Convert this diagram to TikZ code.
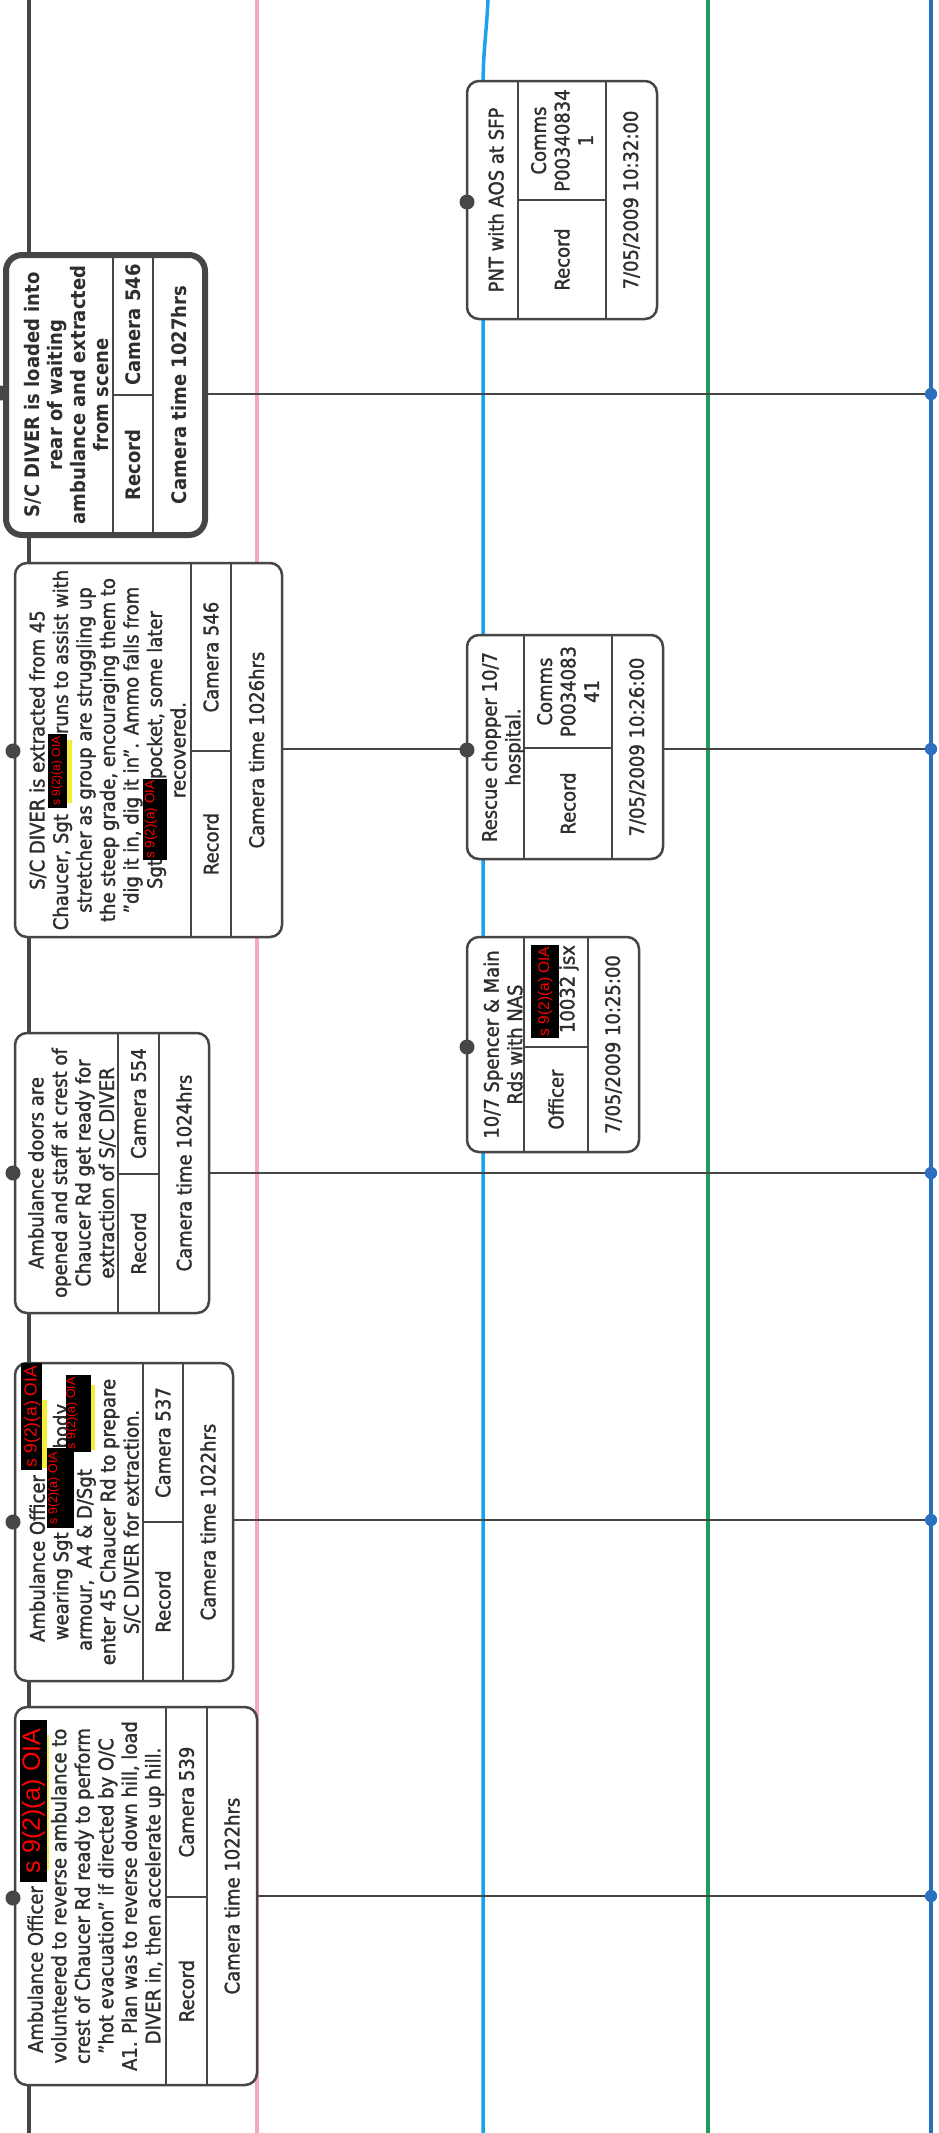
\documentclass[tikz,border=0pt]{standalone}
\usepackage{fontspec}
\setmainfont{DejaVu Sans}[FakeStretch=0.9, UprightFeatures={FakeBold=1.5}]
\newfontfamily\rdf{Liberation Sans}
\definecolor{boxgray}{HTML}{464646}
\definecolor{txtgray}{HTML}{2E2E2E}
\definecolor{lanepink}{HTML}{F4A8C6}
\definecolor{laneblue}{HTML}{1AA3EC}
\definecolor{lanegreen}{HTML}{1E9E5A}
\definecolor{lanedblue}{HTML}{2B6FBF}
\definecolor{hlyellow}{HTML}{F2EE3A}
\tikzset{
  boxframe/.style={draw=boxgray, line width=2.5pt, fill=white, rounded corners=12pt, inner sep=0pt, outer sep=0pt},
  boldframe/.style={line width=6pt, rounded corners=16pt},
  plainframe/.style={},
  cellline/.style={draw=boxgray, line width=2pt},
  txt/.style={rotate=90, align=center, inner sep=0pt, text=txtgray, font=\fontsize{20}{23.5}\selectfont},
  btxt/.style={rotate=90, align=center, inner sep=0pt, text=txtgray, font=\fontsize{20}{23}\selectfont\bfseries},
  redbox/.style={fill=black, draw=none, inner sep=0pt, outer sep=0pt},
  redtxt/.style={rotate=90, text=red, inner sep=0pt},
  lane/.style={line width=3.5pt},
  conn/.style={draw=boxgray, line width=2pt},
  ldot/.style={circle, fill=boxgray, inner sep=0pt, minimum size=15pt},
  rdot/.style={circle, fill=lanedblue, inner sep=0pt, minimum size=12pt},
}
\newcommand\gapbox[1]{\hspace*{#1}\mbox{}}
% name, left, top, right, bottom, div1, div2, split, extra style
\newcommand\frm[9]{%
  \node[boxframe,#9, minimum width={#4-#2}, minimum height={#5-#3}] (#1) at ({(#2+#4)/2},{-(#3+#5)/2}) {};
  \draw[cellline] (#6,-#3) -- (#6,-#5);
  \draw[cellline] (#7,-#3) -- (#7,-#5);
  \draw[cellline] (#6,-#8) -- (#7,-#8);
}
% name, cx, cy, length, thickness, font size, text cx
\newcommand\redact[7]{%
  \node[redbox, minimum width=#5, minimum height=#4] (#1) at (#2,-#3) {};
  \node[redtxt, font=\rdf\fontsize{#6}{#6}\selectfont] (#1t) at (#7,-#3) {s 9(2)(a) OIA};
}
\begin{document}
\begin{tikzpicture}[x=1pt,y=1pt]
\useasboundingbox (0,0) rectangle (939,-2133);
\fill[white] (0,0) rectangle (939,-2133);
% lanes
\draw[lane, boxgray] (29,0) -- (29,-2133);
\draw[lane, lanepink] (257,0) -- (257,-2133);
\draw[lane, laneblue] (488,0) .. controls (486,-40) and (483,-50) .. (483,-90) -- (483,-2133);
\draw[lane, lanegreen] (708,0) -- (708,-2133);
\draw[lane, lanedblue, line width=4.5pt] (931,0) -- (931,-2133);

% ---------- left boxes ----------
% box 1
\frm{b1}{15}{1707}{257}{2085}{166}{207}{1897}{plainframe}
\node[txt] (t1) at (96,-1896) {Ambulance Officer\gapbox{147pt}\\volunteered to reverse ambulance to\\crest of Chaucer Rd ready to perform\\"hot evacuation" if directed by O/C\\A1. Plan was to reverse down hill, load\\DIVER in, then accelerate up hill.};
\node[txt] (t1r) at (186.5,-1991) {Record};
\node[txt] (t1c) at (186.5,-1802) {Camera 539};
\node[txt] (t1t) at (232,-1896) {Camera time 1022hrs};
\fill[hlyellow] (47,-1735) rectangle (49,-1870);
\redact{k1}{33.5}{1801}{162}{27}{25}{33.5}

% box 2
\frm{b2}{15}{1363}{233}{1681}{143}{183}{1522}{plainframe}
\node[txt] (t2) at (85,-1522) {Ambulance Officer\gapbox{73pt}\\wearing Sgt\hspace*{84pt}body\\armour,\ \ A4 \& D/Sgt\gapbox{76pt}\\enter 45 Chaucer Rd to prepare\\S/C DIVER for extraction.};
\node[txt] (t2r) at (163,-1601.5) {Record};
\node[txt] (t2c) at (163,-1442.5) {Camera 537};
\node[txt] (t2t) at (208,-1522) {Camera time 1022hrs};
\fill[hlyellow] (42,-1400) rectangle (47,-1468);
\fill[hlyellow] (91,-1385) rectangle (95,-1450);
\redact{k2}{31.5}{1416.5}{107}{21}{17.5}{32}
\redact{k3}{60.5}{1488}{80}{27}{12.5}{54}
\redact{k4}{78.5}{1413.5}{77}{25}{12.5}{72}

% box 3
\frm{b3}{15}{1033}{209}{1313}{118}{159}{1174}{plainframe}
\node[txt] (t3) at (72,-1173) {Ambulance doors are\\opened and staff at crest of\\Chaucer Rd get ready for\\extraction of S/C DIVER};
\node[txt] (t3r) at (138.5,-1243.5) {Record};
\node[txt] (t3c) at (138.5,-1103.5) {Camera 554};
\node[txt] (t3t) at (184,-1173) {Camera time 1024hrs};

% box 4
\frm{b4}{15}{563}{282}{937}{191}{231}{751}{plainframe}
\node[txt] (t4) at (107.5,-750) {S/C DIVER is extracted from 45\\Chaucer, Sgt\hspace*{80pt}runs to assist with\\stretcher as group are struggling up\\the steep grade, encouraging them to\\"dig it in, dig it in". Ammo falls from\\Sgt\hspace*{80pt}pocket, some later\\recovered.};
\node[txt] (t4r) at (211,-844) {Record};
\node[txt] (t4c) at (211,-657) {Camera 546};
\node[txt] (t4t) at (256.5,-750) {Camera time 1026hrs};
\fill[hlyellow] (67,-740) rectangle (72,-803);
\redact{k5}{57.5}{771}{74}{19}{12}{57}
\redact{k6}{155}{819.5}{81}{24}{13.5}{151}

% box 5 (bold)
\frm{b5}{6}{255}{205}{535}{113}{153}{395}{boldframe}
\node[btxt] (t5) at (67,-395) {S/C DIVER is loaded into\\rear of waiting\\ambulance and extracted\\from scene};
\node[btxt] (t5r) at (133,-465) {Record};
\node[btxt] (t5c) at (133,-325) {Camera 546};
\node[btxt] (t5t) at (179,-395) {Camera time 1027hrs};

% ---------- connectors ----------
\node[rdot] (r1) at (931,-1896) {};
\node[rdot] (r2) at (931,-1520) {};
\node[rdot] (r3) at (931,-1173) {};
\node[rdot] (r4) at (931,-749) {};
\node[rdot] (r5) at (931,-394) {};
\draw[conn] (b1.east |- r1) -- (r1);
\draw[conn] (b2.east |- r2) -- (r2);
\draw[conn] (b3.east |- r3) -- (r3);
\draw[conn] (b4.east |- r4) -- (r4);
\draw[conn] (b5.east |- r5) -- (r5);
\node[rdot] at (r1) {};
\node[rdot] at (r2) {};
\node[rdot] at (r3) {};
\node[rdot] at (r4) {};
\node[rdot] at (r5) {};

% ---------- right boxes ----------
% box 6
\frm{b6}{467}{81}{657}{319}{518}{606}{200}{plainframe}
\node[txt] (t6) at (496,-200) {PNT with AOS at SFP};
\node[txt] (t6c) at (562,-140.5) {Comms\\P00340834\\1};
\node[txt] (t6r) at (562,-259.5) {Record};
\node[txt] (t6t) at (631.5,-200) {7/05/2009 10:32:00};

% box 7
\frm{b7}{467}{635}{663}{859}{524}{612}{748}{plainframe}
\node[txt] (t7) at (503,-747) {Rescue chopper 10/7\\hospital.};
\node[txt] (t7c) at (568,-691.5) {Comms\\P0034083\\41};
\node[txt] (t7r) at (568,-803.5) {Record};
\node[txt] (t7t) at (637.5,-747) {7/05/2009 10:26:00};

% box 8
\frm{b8}{467}{937}{639}{1152}{524}{588}{1047}{plainframe}
\node[txt] (t8) at (503,-1044.5) {10/7 Spencer \& Main\\Rds with NAS};
\redact{k7}{545}{991.5}{93}{28}{15.5}{545}
\node[txt] (t8c) at (569,-989) {10032 jsx};
\node[txt] (t8r) at (556,-1099.5) {Officer};
\node[txt] (t8t) at (613.5,-1044.5) {7/05/2009 10:25:00};

% ---------- event dots ----------
\node[ldot] (d1) at (13,-1898) {};
\node[ldot] (d2) at (13,-1522) {};
\node[ldot] (d3) at (13,-1173) {};
\node[ldot] (d4) at (13,-751) {};
\node[ldot] (d5) at (1,-393) {};
\node[ldot] (d6) at (467,-202) {};
\node[ldot] (d7) at (467,-750) {};
\node[ldot] (d8) at (467,-1047) {};
\end{tikzpicture}
\end{document}
